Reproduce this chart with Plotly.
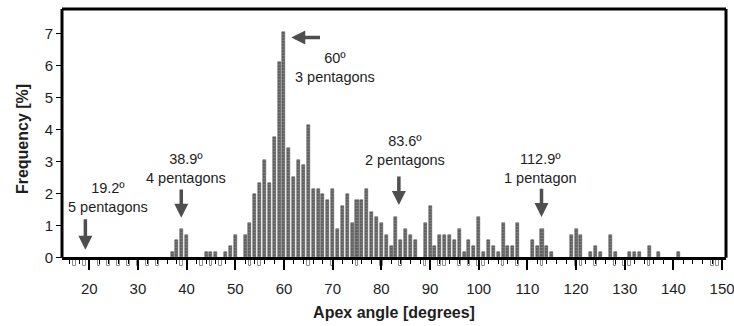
import plotly.graph_objects as go

# Apex-angle histogram (percent of cones per 1-degree bin)
angles = [37, 38, 39, 40, 44, 45, 46, 48, 49, 50,
          52, 53, 54, 55, 56, 57, 58, 59, 60, 61, 62, 63, 64, 65, 66, 67, 68, 69, 70,
          71, 72, 73, 74, 75, 76, 77, 78, 79, 80, 81, 82, 83, 84, 85, 86, 87, 89, 90,
          91, 92, 93, 94, 95, 96, 97, 98, 99, 100, 101, 102, 103, 104, 105, 106, 107, 108,
          111, 112, 113, 114, 115, 119, 120, 121, 123, 124, 125, 127, 128,
          131, 132, 133, 135, 137, 141]
freq = [0.18, 0.54, 0.90, 0.72, 0.18, 0.18, 0.18, 0.18, 0.36, 0.72,
        0.72, 1.08, 1.98, 2.34, 3.06, 2.34, 3.78, 6.12, 7.03, 3.42, 2.52, 3.06, 2.88, 4.14, 2.16, 2.16, 1.98, 1.80, 2.16,
        0.90, 1.62, 1.98, 1.08, 1.80, 1.80, 2.16, 1.44, 1.26, 1.08, 0.72, 0.36, 1.26, 0.54, 0.90, 0.72, 0.54, 1.08, 1.62,
        0.36, 0.72, 0.72, 0.72, 0.54, 0.90, 0.18, 0.54, 0.36, 1.26, 0.18, 0.54, 0.36, 0.18, 1.08, 0.36, 0.36, 1.08,
        0.54, 0.36, 0.90, 0.36, 0.18, 0.72, 0.90, 0.72, 0.18, 0.36, 0.18, 0.72, 0.18,
        0.18, 0.18, 0.18, 0.36, 0.18, 0.18]

# faint outline bins hanging below the zero line
below_angles = [17, 19, 22, 24, 26, 28, 30, 32, 34, 39, 43, 45, 47, 53, 55, 65, 70, 75,
                80, 84, 89, 92, 93, 96, 98, 100, 101, 105, 108, 113, 120, 121, 124,
                128, 130, 131, 135, 148, 149]
below_depth = [-0.26] * len(below_angles)

# Special apex angles (cones with n pentagons)
special_angles = [19.2, 38.9, 60.0, 83.6, 112.9]
special_labels = ["19.2º<br>5 pentagons", "38.9º<br>4 pentagons", "60º<br>3 pentagons",
                  "83.6º<br>2 pentagons", "112.9º<br>1 pentagon"]

x_ticks = list(range(20, 151, 10))
y_ticks = list(range(0, 8))

X_MIN, X_MAX = 14.4, 150.8
Y_MIN, Y_MAX = -0.35, 7.76
y0_frac = (0 - Y_MIN) / (Y_MAX - Y_MIN)

FONT = "Liberation Sans, Arial, sans-serif"
INK = "#1e1e1e"

fig = go.Figure()
fig.add_trace(go.Bar(
    x=below_angles, y=below_depth, width=0.55,
    marker=dict(color="white", line=dict(color="#8e8e8e", width=1)),
    showlegend=False, hoverinfo="skip",
))
fig.add_trace(go.Bar(
    x=angles, y=freq, width=0.62,
    marker=dict(color="#6c6c6c", line=dict(color="#444444", width=0.5),
                pattern=dict(shape="-", fgcolor="#a4a4a4", bgcolor="#646464",
                             size=3, solidity=0.25)),
    showlegend=False, hoverinfo="x+y",
))

# frame around the data region (bottom edge is the zero line)
frame = dict(color="black", width=3)
fig.add_shape(type="line", xref="paper", yref="paper", x0=0, x1=1, y0=1, y1=1, line=frame)
fig.add_shape(type="line", xref="paper", yref="paper", x0=0, x1=0, y0=y0_frac, y1=1, line=frame)
fig.add_shape(type="line", xref="paper", yref="paper", x0=1, x1=1, y0=y0_frac, y1=1, line=frame)

# label blocks and arrows for the special angles
label_pos = {19.2: (23.8, 1.88), 38.9: (39.85, 2.77), 60.0: (70.45, 5.92),
             83.6: (84.85, 3.36), 112.9: (112.6, 2.77)}
for ang, txt in zip(special_angles, special_labels):
    lx, ly = label_pos[ang]
    fig.add_annotation(x=lx, y=ly, text=txt, showarrow=False,
                       font=dict(family=FONT, size=14.5, color=INK), align="center",
                       xanchor="center", yanchor="middle")

arrow_gray = "#4e4e4e"
down_arrows = {19.2: (1.25, 0.25), 38.9: (2.18, 1.25), 83.6: (2.58, 1.65), 112.9: (2.2, 1.27)}
for ang, (ytail, yhead) in down_arrows.items():
    fig.add_annotation(x=ang, y=yhead, ax=ang, ay=ytail, xref="x", yref="y",
                       axref="x", ayref="y", text="", showarrow=True,
                       arrowhead=2, arrowsize=0.8, arrowwidth=3.5, arrowcolor=arrow_gray)
fig.add_annotation(x=61.5, y=6.87, ax=67.7, ay=6.87, xref="x", yref="y",
                   axref="x", ayref="y", text="", showarrow=True,
                   arrowhead=2, arrowsize=0.8, arrowwidth=3.5, arrowcolor=arrow_gray)

fig.update_layout(
    width=734, height=326,
    margin=dict(l=62, r=8, t=9, b=57),
    paper_bgcolor="white", plot_bgcolor="white",
    bargap=0, barmode="overlay",
    font=dict(family=FONT, size=14, color=INK),
    xaxis=dict(range=[X_MIN, X_MAX], tickvals=x_ticks, ticks="outside", ticklen=10,
               tickwidth=1.5, tickcolor="black", showline=True, linecolor="black",
               linewidth=3, anchor="free", position=y0_frac, showgrid=False,
               zeroline=False, tickfont=dict(size=15, color=INK),
               ticklabelstandoff=6, ticklabeloverflow="allow", automargin=False,
               minor=dict(dtick=2, ticks="outside", ticklen=4, tickcolor="black", tickwidth=1),
               title=dict(text="<b>Apex angle [degrees]</b>", font=dict(size=16, color=INK),
                          standoff=11)),
    yaxis=dict(range=[Y_MIN, Y_MAX], tickvals=y_ticks, ticks="outside", ticklen=5,
               tickcolor="black", showline=False, showgrid=False, zeroline=False,
               tickfont=dict(size=15, color=INK), automargin=False,
               title=dict(text="<b>Frequency [%]</b>", font=dict(size=16, color=INK),
                          standoff=12)),
)

fig.write_html("out.html")
